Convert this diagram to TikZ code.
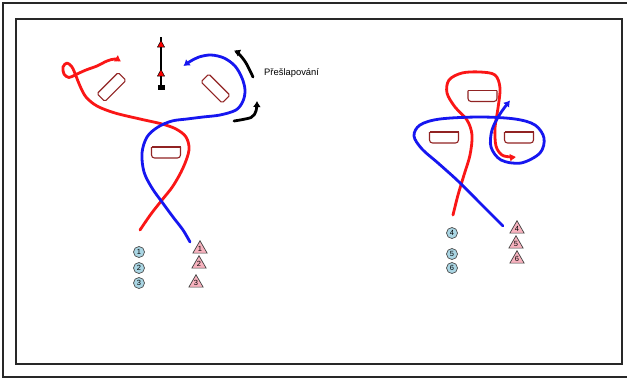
\documentclass[tikz,border=0pt]{standalone}
\usepackage{fontspec}
\setmainfont{Liberation Sans}
\usetikzlibrary{arrows.meta,shapes.geometric}

\definecolor{runred}{RGB}{250,22,22}
\definecolor{runblue}{RGB}{22,22,240}
\definecolor{tubred}{RGB}{145,35,35}
\definecolor{chipblue}{RGB}{170,214,228}
\definecolor{conepink}{RGB}{247,178,190}
\definecolor{framegray}{RGB}{40,40,40}

\tikzset{
  route/.style={line width=2.8pt, line cap=round, line join=round},
  redroute/.style={route, draw=runred},
  blueroute/.style={route, draw=runblue},
  blackroute/.style={route, draw=black},
  tip/.style={-{Latex[length=6pt,width=8pt]}},
  tubline/.style={draw=tubred, line width=1.1pt},
  chip/.style={circle, draw=black!70, fill=chipblue, line width=0.7pt,
    inner sep=0pt, minimum size=11pt, font=\fontsize{7.5}{7.5}\selectfont},
  cone/.style={regular polygon, regular polygon sides=3, draw=black!75,
    fill=conepink, line width=0.7pt, inner sep=0pt, minimum size=16.5pt,
    font=\fontsize{7.5}{7.5}\selectfont},
  flag/.style={fill=red, draw=black, line width=0.5pt},
  pics/tub/.style={code={
    \draw[tubline] (-14.5,-5.5) -- (14.5,-5.5);
    \draw[tubline, rounded corners=3pt] (-14.5,-5.5) -- (-14.5,5.5) -- (14.5,5.5) -- (14.5,-5.5);
  }},
  pics/slab/.style={code={
    \draw[tubline, rounded corners=1.5pt] (-15,-5.5) rectangle (15,5.5);
  }}
}

\begin{document}
\begin{tikzpicture}[x=1pt,y=-1pt]
\useasboundingbox (0,0) rectangle (627,378);
\fill[white] (0,0) rectangle (627,378);

% frames
\draw[framegray, line width=1.5pt] (3,3) rectangle (640,377);
\draw[framegray, line width=1.1pt] (16,19) rectangle (622,364);

% ---------- left exercise ----------
% pole with two flags and a base
\draw[black, line width=2pt] (161,37) -- (161,86);
\draw[flag] (161,40.5) -- (157.5,47) -- (164.5,47) -- cycle;
\draw[flag] (161,69.5) -- (157.5,76) -- (164.5,76) -- cycle;
\fill[black] (157.5,85) rectangle (164.5,90);

% obstacles
\pic[rotate=45] at (111.5,87) {slab};
\pic[rotate=-45] at (215.5,88.5) {slab};
\pic at (166,152.5) {tub};

% red run
\draw[redroute, tip] plot[smooth, tension=0.55] coordinates {
  (140,230) (151,214) (162,200) (173,186) (183,168) (189,150) (186,137)
  (176,129) (162,124) (140,119) (115,113) (97,106) (86,97) (80,86)
  (76,76) (72,67) (67,63) (63,67) (64,74) (69,77.5) (76,74.5) (86,70)
  (97,66) (107,61) (115,59) (121,61.5)};

% blue run
\draw[blueroute, tip] plot[smooth, tension=0.55] coordinates {
  (190,242) (183,230) (173,217) (162,202) (152,188) (144,172) (142,153)
  (147,137) (158,127) (172,121) (187,119) (203,117) (220,115) (236,110)
  (243,101) (245,90) (242,78) (235,66) (224,58) (211,55) (199,57)
  (190,61.5) (183.5,66)};

% side-step arrows
\draw[blackroute, tip] plot[smooth, tension=0.6] coordinates {
  (253,77) (246,63) (239,54) (234,50.5)};
\draw[blackroute, tip] plot[smooth, tension=0.5] coordinates {
  (234,121) (251,117.5) (256,111) (257,101)};

\node[anchor=west, font=\fontsize{9.4}{10}\selectfont, inner sep=0pt] (label) at (264,73) {Přešlapování};

% players and cones
\node[chip] (c1) at (139,252) {1};
\node[chip] (c2) at (139,268) {2};
\node[chip] (c3) at (139,283) {3};
\node[cone] (t1) at (200,249) {1};
\node[cone] (t2) at (199,264) {2};
\node[cone] (t3) at (196,283) {3};

% ---------- right exercise ----------
\pic at (482.5,96) {tub};
\pic at (444,137.5) {tub};
\pic at (519,137.5) {tub};

% red run
\draw[redroute, tip] plot[smooth, tension=0.55] coordinates {
  (453,215) (458,195) (464,175) (470,155) (472,135) (467,120) (455,107)
  (447,93) (449,80) (462,73) (480,72) (495,75) (500,88) (498,108)
  (495,128) (496,146) (502,155) (511,157) (516,157)};

% blue run
\draw[blueroute, tip] plot[smooth, tension=0.55] coordinates {
  (503,226) (480,203) (458,181) (438,163) (422,149) (414,136) (420,125)
  (440,119) (480,117) (515,119) (535,125) (544,138) (540,153) (521,163)
  (501,160) (491,147) (492,130) (500,114) (510,100.5)};

\node[chip] (c4) at (452,233) {4};
\node[chip] (c5) at (452,254) {5};
\node[chip] (c6) at (452,268) {6};
\node[cone] (t4) at (517,229) {4};
\node[cone] (t5) at (516,244) {5};
\node[cone] (t6) at (517,259) {6};
\end{tikzpicture}
\end{document}
